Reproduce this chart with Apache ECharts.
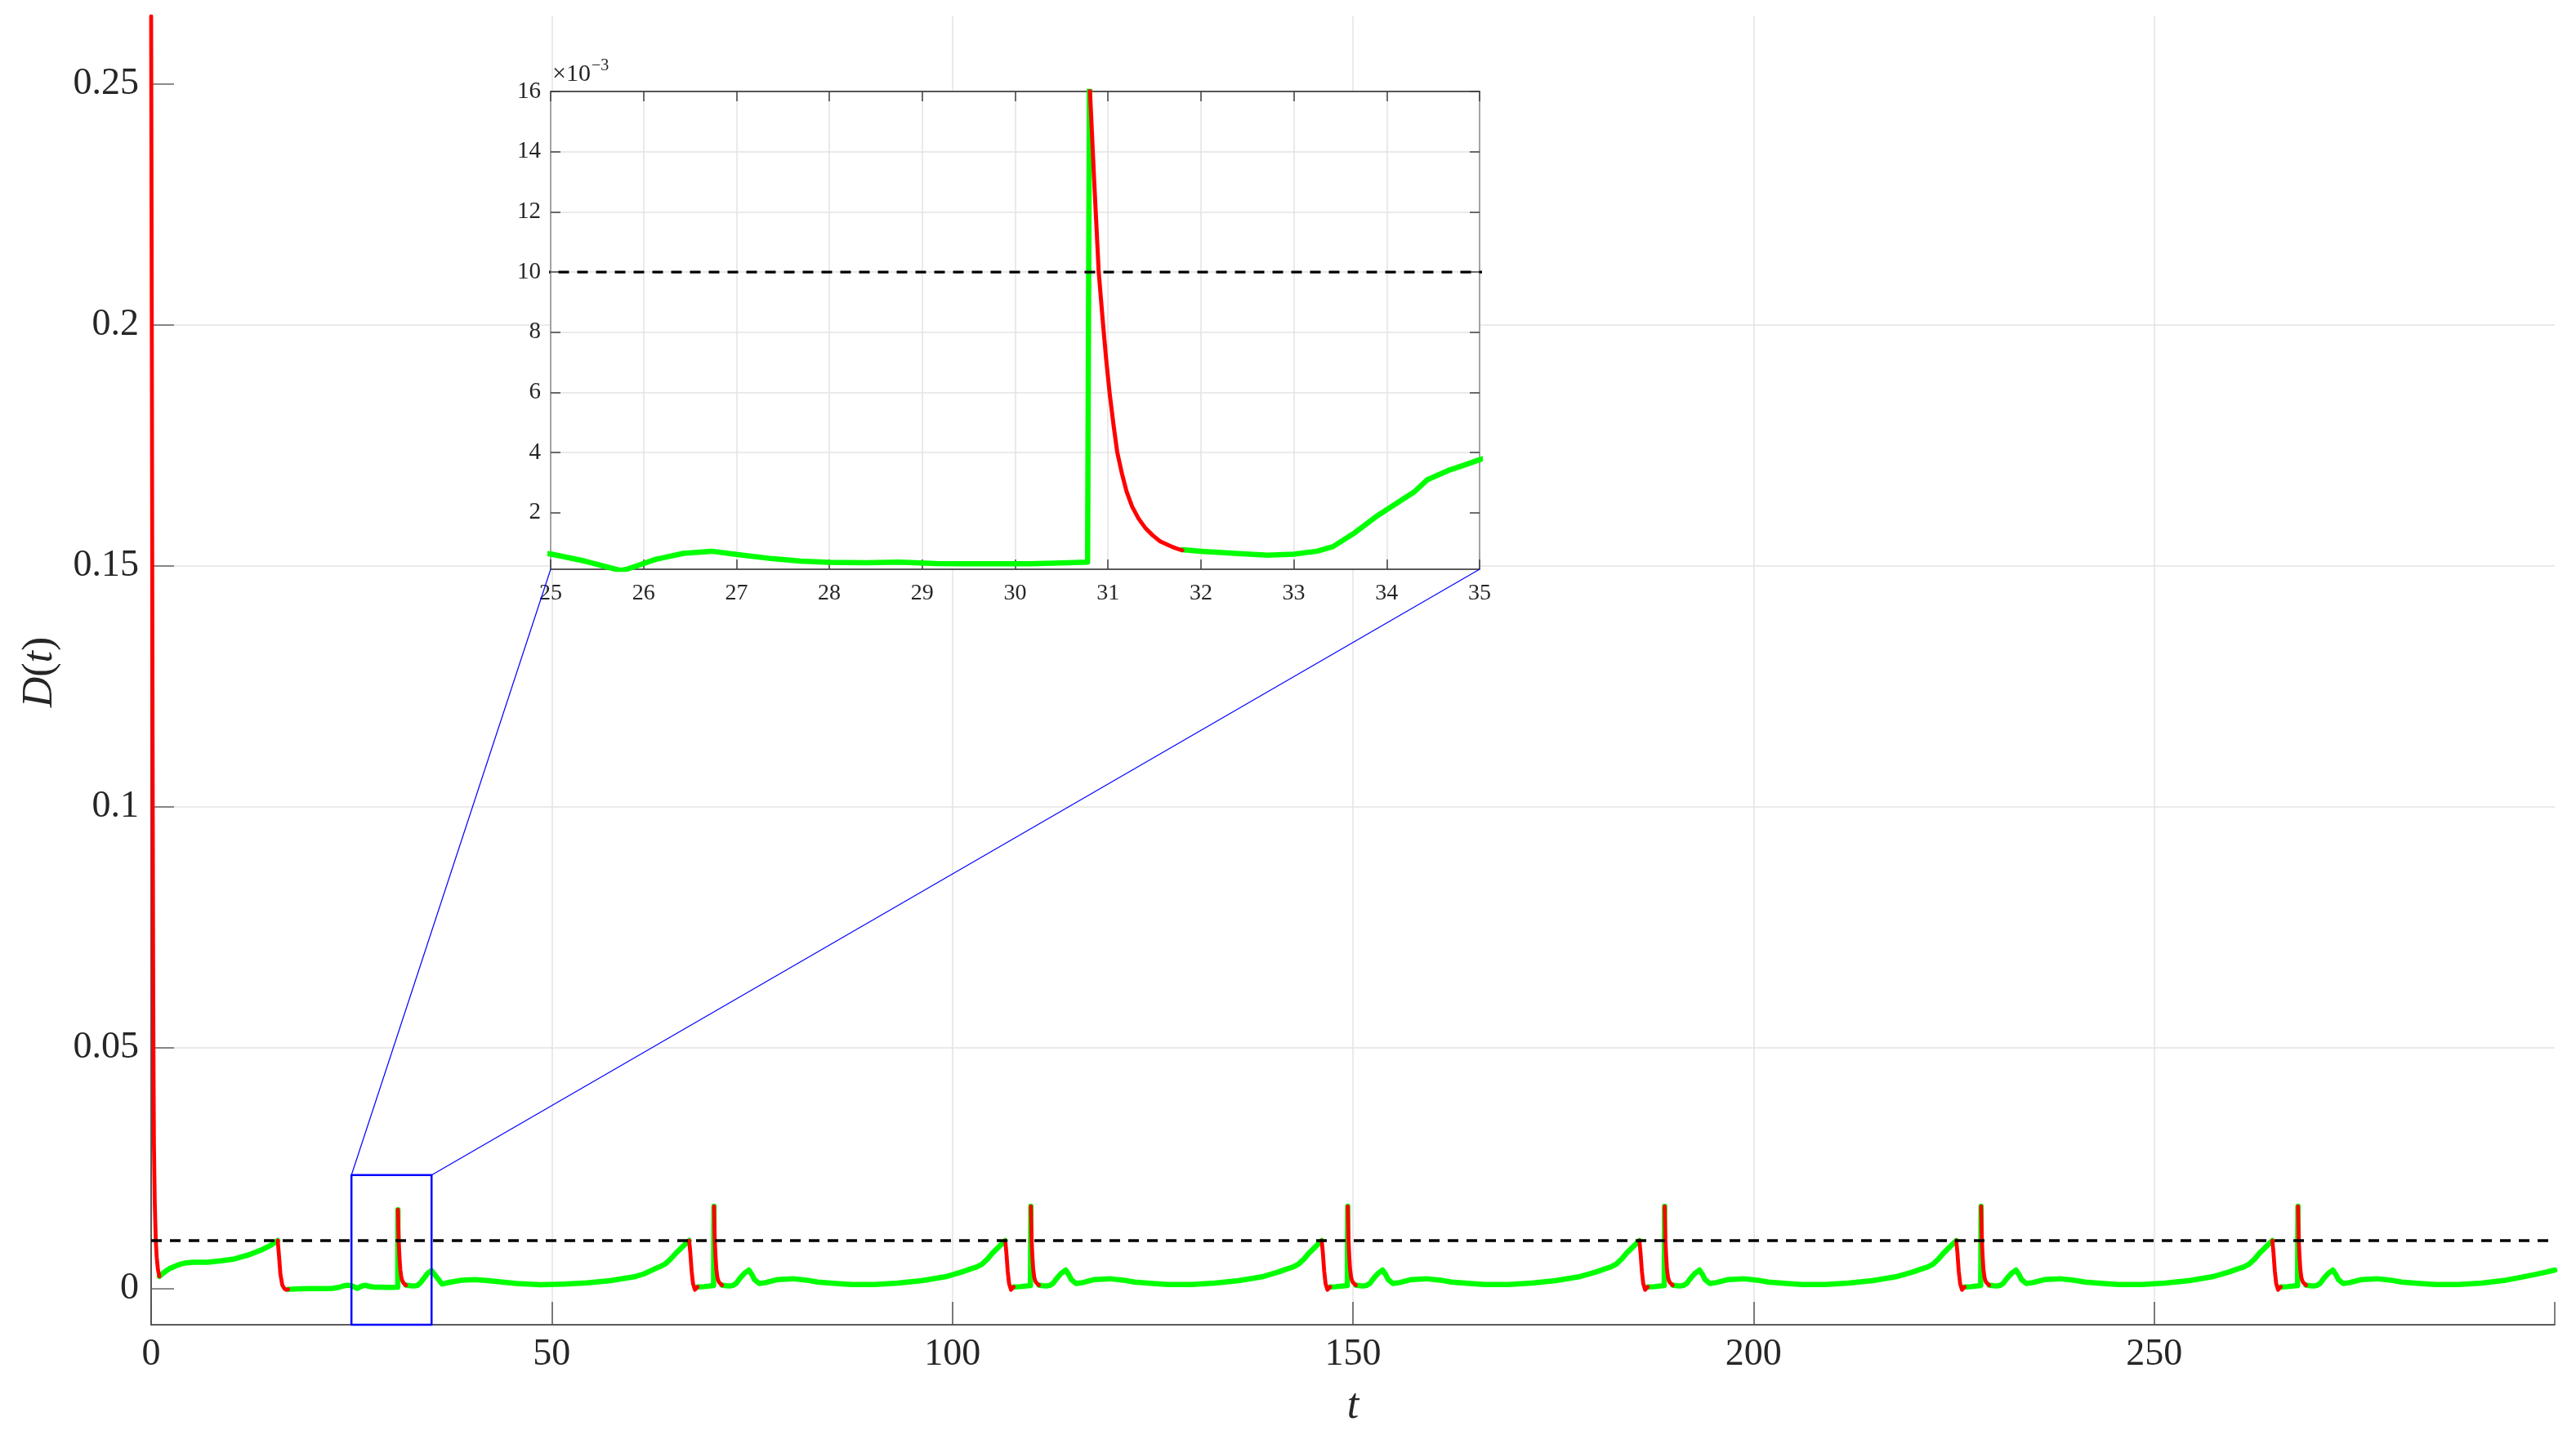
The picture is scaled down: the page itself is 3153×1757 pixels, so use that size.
<!DOCTYPE html>
<html><head><meta charset="utf-8">
<script src="https://cdn.jsdelivr.net/npm/echarts@6/dist/echarts.min.js"></script>
<style>html,body{margin:0;padding:0;background:#fff}#c{width:3153px;height:1757px}</style>
</head><body><div id="c"></div><script>
// ---------------- data (t, D(t)) ----------------
const redSegments = [
 [[0,0.264],[0.05,0.225],[0.1,0.185],[0.15,0.14],[0.2,0.1],[0.25,0.068],[0.3,0.045],[0.35,0.03],[0.45,0.018],[0.58,0.010],[0.7,0.0065],[0.85,0.004],[1.02,0.0026]],
 [[15.8,0.0100],[15.9,0.0080],[16.0,0.0060],[16.13,0.0031],[16.37,0.0008],[16.6,0.0001],[16.84,-0.0002],[17.1,-0.0001]],
 [[30.8,0.0164],[30.85,0.0131],[30.9,0.0100],[30.94,0.0085],[30.98,0.0071],[31.02,0.0059],[31.06,0.0049],[31.1,0.0040],[31.15,0.0033],[31.2,0.0027],[31.26,0.0022],[31.33,0.0018],[31.4,0.0015],[31.48,0.00125],[31.56,0.00105],[31.65,0.00092],[31.72,0.00083],[31.8,0.00075]],
 [[67.15,0.0100],[67.29,0.0076],[67.46,0.0037],[67.63,0.0011],[67.87,-0.0002],[68.0,-0.0003],[68.2,0.0004]],
 [[70.25,0.0171],[70.3,0.0135],[70.35,0.0100],[70.43,0.0071],[70.54,0.0041],[70.68,0.0023],[70.79,0.0017],[70.9,0.0013],[71.04,0.0010],[71.25,0.00075]],
 [[106.6,0.0100],[106.74,0.0076],[106.91,0.0037],[107.08,0.0011],[107.32,-0.0002],[107.45,-0.0003],[107.65,0.0004]],
 [[109.8,0.0171],[109.85,0.0135],[109.9,0.0100],[109.98,0.0071],[110.09,0.0041],[110.23,0.0023],[110.34,0.0017],[110.45,0.0013],[110.59,0.0010],[110.8,0.00075]],
 [[146.1,0.0100],[146.24,0.0076],[146.41,0.0037],[146.58,0.0011],[146.82,-0.0002],[146.95,-0.0003],[147.15,0.0004]],
 [[149.35,0.0171],[149.4,0.0135],[149.45,0.0100],[149.53,0.0071],[149.64,0.0041],[149.78,0.0023],[149.89,0.0017],[150.0,0.0013],[150.14,0.0010],[150.35,0.00075]],
 [[185.75,0.0100],[185.89,0.0076],[186.06,0.0037],[186.23,0.0011],[186.47,-0.0002],[186.6,-0.0003],[186.8,0.0004]],
 [[188.9,0.0171],[188.95,0.0135],[189.0,0.0100],[189.08,0.0071],[189.19,0.0041],[189.33,0.0023],[189.44,0.0017],[189.55,0.0013],[189.69,0.0010],[189.9,0.00075]],
 [[225.3,0.0100],[225.44,0.0076],[225.61,0.0037],[225.78,0.0011],[226.02,-0.0002],[226.15,-0.0003],[226.35,0.0004]],
 [[228.4,0.0171],[228.45,0.0135],[228.5,0.0100],[228.58,0.0071],[228.69,0.0041],[228.83,0.0023],[228.94,0.0017],[229.05,0.0013],[229.19,0.0010],[229.4,0.00075]],
 [[264.75,0.0100],[264.89,0.0076],[265.06,0.0037],[265.23,0.0011],[265.47,-0.0002],[265.6,-0.0003],[265.8,0.0004]],
 [[267.95,0.0171],[268.0,0.0135],[268.05,0.0100],[268.13,0.0071],[268.24,0.0041],[268.38,0.0023],[268.49,0.0017],[268.6,0.0013],[268.74,0.0010],[268.95,0.00075]]
];
const greenSegments = [
 [[1.02,0.0026],[1.6,0.0034],[2.2,0.0041],[3.0,0.0047],[3.6,0.0051],[4.4,0.0054],[5.3,0.0055],[7.0,0.0055],[8.7,0.0058],[10.4,0.0062],[12.1,0.0070],[13.8,0.0081],[14.9,0.0090],[15.8,0.0100]],
 [[17.1,-0.0001],[18.5,0.00002],[20,0.00005],[21.5,0.00005],[22.6,0.0001],[23.4,0.0003],[24.0,0.0006],[24.5,0.00075],[25.0,0.00063],[25.37,0.00039],[25.75,0.00008],[25.82,0.00012],[26.13,0.00045],[26.43,0.00065],[26.73,0.00072],[27.03,0.0006],[27.39,0.00047],[27.69,0.00039],[27.99,0.00035],[28.4,0.00034],[28.75,0.00036],[29.15,0.00031],[29.41,0.0003],[29.91,0.0003],[30.16,0.0003],[30.5,0.00033],[30.78,0.00036],[30.8,0.0164]],
 [[31.8,0.00077],[32.0,0.00072],[32.36,0.00065],[32.72,0.00059],[33.0,0.00062],[33.25,0.00072],[33.42,0.00087],[33.64,0.0013],[33.9,0.0019],[34.15,0.0024],[34.3,0.0027],[34.44,0.0031],[34.66,0.0034],[34.85,0.0036],[35.0,0.00376],[35.2,0.00395],[35.7,0.0023],[36.3,0.0010],[37.4,0.0014],[38.8,0.0018],[40.4,0.0019],[42.1,0.0017],[43.8,0.0014],[45.6,0.0011],[48.6,0.00085],[51.5,0.0010],[54.4,0.00125],[57.3,0.0017],[60.3,0.0025],[61.5,0.0031],[62.8,0.0041],[63.5,0.0046],[64.2,0.0052],[64.9,0.0063],[65.5,0.0074],[66.3,0.0087],[67.15,0.0100]],
 [[68.2,0.0004],[69.0,0.00045],[70.2,0.0007],[70.25,0.0171]],
 [[71.25,0.00077],[71.45,0.00072],[71.8,0.00065],[72.2,0.0006],[72.6,0.0007],[73.0,0.0011],[73.35,0.0019],[73.7,0.0026],[74.1,0.0033],[74.6,0.0039],[75.0,0.0029],[75.3,0.0019],[75.9,0.0011],[76.7,0.0013],[78.1,0.0019],[80.1,0.0021],[81.8,0.0018],[83.2,0.0014],[85.5,0.0011],[87.4,0.0009],[90.3,0.0009],[93.2,0.0012],[96.2,0.0017],[99.1,0.0025],[101.2,0.0035],[102.2,0.0041],[103.0,0.0045],[103.7,0.0051],[104.4,0.0062],[105.0,0.0074],[105.8,0.0087],[106.6,0.0100]],
 [[107.65,0.0004],[108.45,0.00045],[109.75,0.0007],[109.8,0.0171]],
 [[110.8,0.00077],[111.0,0.00072],[111.35,0.00065],[111.75,0.0006],[112.15,0.0007],[112.55,0.0011],[112.9,0.0019],[113.25,0.0026],[113.65,0.0033],[114.15,0.0039],[114.55,0.0029],[114.85,0.0019],[115.45,0.0011],[116.25,0.0013],[117.65,0.0019],[119.65,0.0021],[121.35,0.0018],[122.75,0.0014],[125.05,0.0011],[126.95,0.0009],[129.85,0.0009],[132.75,0.0012],[135.75,0.0017],[138.65,0.0025],[140.7,0.0035],[141.7,0.0041],[142.5,0.0045],[143.2,0.0051],[143.9,0.0062],[144.5,0.0074],[145.3,0.0087],[146.1,0.0100]],
 [[147.15,0.0004],[147.95,0.00045],[149.3,0.0007],[149.35,0.0171]],
 [[150.35,0.00077],[150.55,0.00072],[150.9,0.00065],[151.3,0.0006],[151.7,0.0007],[152.1,0.0011],[152.45,0.0019],[152.8,0.0026],[153.2,0.0033],[153.7,0.0039],[154.1,0.0029],[154.4,0.0019],[155.0,0.0011],[155.8,0.0013],[157.2,0.0019],[159.2,0.0021],[160.9,0.0018],[162.3,0.0014],[164.6,0.0011],[166.5,0.0009],[169.4,0.0009],[172.3,0.0012],[175.3,0.0017],[178.2,0.0025],[180.35,0.0035],[181.35,0.0041],[182.15,0.0045],[182.85,0.0051],[183.55,0.0062],[184.15,0.0074],[184.95,0.0087],[185.75,0.0100]],
 [[186.8,0.0004],[187.6,0.00045],[188.85,0.0007],[188.9,0.0171]],
 [[189.9,0.00077],[190.1,0.00072],[190.45,0.00065],[190.85,0.0006],[191.25,0.0007],[191.65,0.0011],[192.0,0.0019],[192.35,0.0026],[192.75,0.0033],[193.25,0.0039],[193.65,0.0029],[193.95,0.0019],[194.55,0.0011],[195.35,0.0013],[196.75,0.0019],[198.75,0.0021],[200.45,0.0018],[201.85,0.0014],[204.15,0.0011],[206.05,0.0009],[208.95,0.0009],[211.85,0.0012],[214.85,0.0017],[217.75,0.0025],[219.9,0.0035],[220.9,0.0041],[221.7,0.0045],[222.4,0.0051],[223.1,0.0062],[223.7,0.0074],[224.5,0.0087],[225.3,0.0100]],
 [[226.35,0.0004],[227.15,0.00045],[228.35,0.0007],[228.4,0.0171]],
 [[229.4,0.00077],[229.6,0.00072],[229.95,0.00065],[230.35,0.0006],[230.75,0.0007],[231.15,0.0011],[231.5,0.0019],[231.85,0.0026],[232.25,0.0033],[232.75,0.0039],[233.15,0.0029],[233.45,0.0019],[234.05,0.0011],[234.85,0.0013],[236.25,0.0019],[238.25,0.0021],[239.95,0.0018],[241.35,0.0014],[243.65,0.0011],[245.55,0.0009],[248.45,0.0009],[251.35,0.0012],[254.35,0.0017],[257.25,0.0025],[259.35,0.0035],[260.35,0.0041],[261.15,0.0045],[261.85,0.0051],[262.55,0.0062],[263.15,0.0074],[263.95,0.0087],[264.75,0.0100]],
 [[265.8,0.0004],[266.6,0.00045],[267.9,0.0007],[267.95,0.0171]],
 [[268.95,0.00077],[269.15,0.00072],[269.5,0.00065],[269.9,0.0006],[270.3,0.0007],[270.7,0.0011],[271.05,0.0019],[271.4,0.0026],[271.8,0.0033],[272.3,0.0039],[272.7,0.0029],[273.0,0.0019],[273.6,0.0011],[274.4,0.0013],[275.8,0.0019],[277.8,0.0021],[279.5,0.0018],[280.9,0.0014],[283.2,0.0011],[285.1,0.0009],[288.0,0.0009],[290.9,0.0012],[293.9,0.0018],[295.8,0.0024],[297.6,0.0030],[299.0,0.0035],[300,0.0039]]
];
const thresholdLine = [[0,0.01],[300,0.01]];
const zoomBoxPath = [[25,-0.00745],[25,0.0236],[35,0.0236],[35,-0.00745],[25,-0.00745]];
const mainXTicks = [0,50,100,150,200,250];
const mainYTicks = [0,0.05,0.1,0.15,0.2,0.25];
const mainYTickLabels = ['0','0.05','0.1','0.15','0.2','0.25'];
const insetXTicks = [25,26,27,28,29,30,31,32,33,34,35];
const insetYTicks = [0.002,0.004,0.006,0.008,0.010,0.012,0.014,0.016];
const insetYTickLabels = ['2','4','6','8','10','12','14','16'];

// ---------------- layout ----------------
const F = 'Liberation Serif';
const TXT = '#262626';
const mainGrid = {left:185, top:20, width:2942, height:1602};
const insetGrid = {left:674, top:112, width:1137, height:585};
const GREEN = '#00ff00', RED = '#ff0000';

function fmtFrom(ticks, labels){
  return function(v){
    for (let i=0;i<ticks.length;i++){ if (Math.abs(ticks[i]-v) < 1e-9) return labels[i]; }
    return '';
  };
}
function lineSeries(seg, color, width, xi, yi, z){
  return {type:'line', xAxisIndex:xi, yAxisIndex:yi, data:seg, symbol:'none', showSymbol:false,
    silent:true, animation:false, clip:true, z:z,
    lineStyle:{color:color, width:width, cap:'round', join:'round'}};
}
const series = [];
greenSegments.forEach(s=>series.push(lineSeries(s, GREEN, 6.5, 0, 0, 3)));
redSegments.forEach(s=>series.push(lineSeries(s, RED, 4.8, 0, 0, 4)));
series.push(Object.assign(lineSeries(thresholdLine, '#000', 3.3, 0, 0, 5), {lineStyle:{color:'#000', width:3.3, type:[13,10]}}));
series.push(Object.assign(lineSeries(zoomBoxPath, '#0000ff', 2.5, 0, 0, 6), {clip:false}));
const inRange = s => s.some(p=>p[0]>=24 && p[0]<=36);
greenSegments.filter(inRange).forEach(s=>series.push(lineSeries(s, GREEN, 6.5, 1, 1, 12)));
redSegments.filter(inRange).forEach(s=>series.push(lineSeries(s, RED, 5, 1, 1, 13)));
series.push(Object.assign(lineSeries(thresholdLine, '#000', 3.3, 1, 1, 14), {lineStyle:{color:'#000', width:3.3, type:[13,10]}}));

const chart = echarts.init(document.getElementById('c'), null, {renderer:'canvas'});
chart.setOption({
  animation:false,
  backgroundColor:'#fff',
  grid:[
    Object.assign({containLabel:false, show:false}, mainGrid),
    Object.assign({containLabel:false, show:true, backgroundColor:'#fff', borderWidth:0, z:10}, insetGrid)
  ],
  xAxis:[
    {gridIndex:0, type:'value', min:0, max:300, interval:50, z:0,
     axisLine:{show:true, onZero:false, lineStyle:{color:TXT, width:1.5}},
     axisTick:{show:true, inside:true, length:28, lineStyle:{color:'#555', width:1.5}},
     axisLabel:{fontSize:46, fontFamily:F, color:TXT, margin:14, formatter:v=>mainXTicks.includes(v)?String(v):''},
     splitLine:{show:true, showMaxLine:false, lineStyle:{color:'#e3e3e3', width:1.5}}},
    {gridIndex:1, type:'value', min:25, max:35, interval:1, position:'bottom', z:11,
     axisLine:{show:true, onZero:false, lineStyle:{color:TXT, width:1.5}},
     axisTick:{show:true, inside:true, length:12, lineStyle:{color:'#404040', width:1.5}},
     axisLabel:{fontSize:28, fontFamily:F, color:TXT, margin:16, formatter:v=>insetXTicks.includes(v)?String(v):''},
     splitLine:{show:true, lineStyle:{color:'#e3e3e3', width:1.5}}},
    {gridIndex:1, type:'value', min:25, max:35, interval:1, position:'top', z:11,
     axisLine:{show:true, onZero:false, lineStyle:{color:TXT, width:1.5}},
     axisTick:{show:true, inside:true, length:12, lineStyle:{color:'#404040', width:1.5}},
     axisLabel:{show:false}, splitLine:{show:false}}
  ],
  yAxis:[
    {gridIndex:0, type:'value', min:-0.00745, max:0.264, splitNumber:5, z:0,
     axisLine:{show:true, onZero:false, lineStyle:{color:TXT, width:1.5}},
     axisTick:{show:true, inside:true, length:28, customValues:mainYTicks, lineStyle:{color:'#666', width:1.5}},
     axisLabel:{fontSize:46, fontFamily:F, color:TXT, margin:15, customValues:mainYTicks, formatter:fmtFrom(mainYTicks, mainYTickLabels)},
     splitLine:{show:true, showMaxLine:false, showMinLine:false, lineStyle:{color:'#e3e3e3', width:1.5}}},
    {gridIndex:1, type:'value', min:0.00012, max:0.016, splitNumber:8, position:'left', z:11,
     axisLine:{show:true, onZero:false, lineStyle:{color:'#8c8c8c', width:1.5}},
     axisTick:{show:true, inside:true, length:12, customValues:insetYTicks, lineStyle:{color:'#404040', width:1.5}},
     axisLabel:{fontSize:29, fontFamily:F, color:TXT, margin:12, customValues:insetYTicks, formatter:fmtFrom(insetYTicks, insetYTickLabels)},
     splitLine:{show:true, showMinLine:false, lineStyle:{color:'#e3e3e3', width:1.5}}},
    {gridIndex:1, type:'value', min:0.00012, max:0.016, splitNumber:8, position:'right', z:11,
     axisLine:{show:true, onZero:false, lineStyle:{color:'#8c8c8c', width:1.5}},
     axisTick:{show:true, inside:true, length:12, customValues:insetYTicks, lineStyle:{color:'#404040', width:1.5}},
     axisLabel:{show:false}, splitLine:{show:false}}
  ],
  series: series
});

// connector lines from zoom box corners (via the main scales) to inset bottom corners
const pL = chart.convertToPixel({gridIndex:0}, [zoomBoxPath[1][0], zoomBoxPath[1][1]]);
const pR = chart.convertToPixel({gridIndex:0}, [zoomBoxPath[2][0], zoomBoxPath[2][1]]);
const insetBottom = insetGrid.top + insetGrid.height;
chart.setOption({
  graphic:[
    {type:'line', z:20, silent:true, shape:{x1:pL[0], y1:pL[1], x2:insetGrid.left, y2:insetBottom}, style:{stroke:'#0000ff', lineWidth:1.2}},
    {type:'line', z:20, silent:true, shape:{x1:pR[0], y1:pR[1], x2:insetGrid.left+insetGrid.width, y2:insetBottom}, style:{stroke:'#0000ff', lineWidth:1.2}},
    {type:'text', z:20, silent:true, x:49, y:823, rotation:Math.PI/2,
     style:{text:'{i|D}{n|(}{i|t}{n|)}', align:'center', verticalAlign:'middle', fill:TXT,
       rich:{i:{fontFamily:F, fontStyle:'italic', fontSize:52, fill:TXT}, n:{fontFamily:F, fontSize:52, fill:TXT}}}},
    {type:'text', z:20, silent:true, x:1656, y:1722,
     style:{text:'t', fontFamily:F, fontStyle:'italic', fontSize:52, fill:TXT, align:'center', verticalAlign:'middle'}},
    {type:'text', z:20, silent:true, x:676, y:91,
     style:{text:'×10', fontFamily:F, fontSize:30, fill:TXT, align:'left', verticalAlign:'middle'}},
    {type:'text', z:20, silent:true, x:724, y:81,
     style:{text:'−3', fontFamily:F, fontSize:20, fill:TXT, align:'left', verticalAlign:'middle'}}
  ]
});
</script></body></html>
